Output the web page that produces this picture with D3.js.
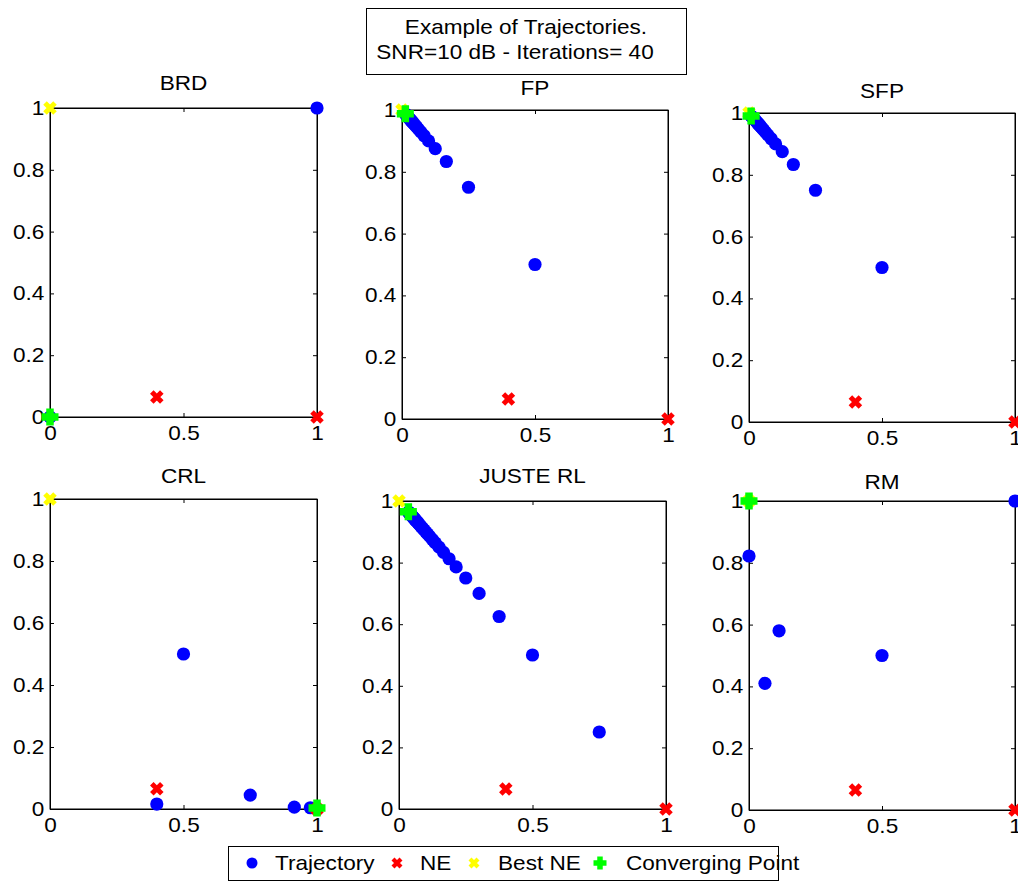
<!DOCTYPE html>
<html>
<head>
<meta charset="utf-8">
<script src="https://cdn.jsdelivr.net/npm/d3@7"></script>
<style>
  html, body { margin: 0; padding: 0; background: #fff; }
  svg { display: block; }
  text { font-family: "Liberation Sans", Arial, sans-serif; fill: #000; }
</style>
</head>
<body>
<div id="chart"></div>
<script>
// ── Data ─────────────────────────────────────────────────────
const panelTitles = ["BRD", "FP", "SFP", "CRL", "JUSTE RL", "RM"];
const titleLines  = ["Example of Trajectories.", "SNR=10 dB - Iterations= 40"];
const legendNames = ["Trajectory", "NE", "Best NE", "Converging Point"];

const xTicks = [0, 0.5, 1];
const xTickLabels = ["0", "0.5", "1"];
const yTicks = [0, 0.2, 0.4, 0.6, 0.8, 1];
const yTickLabels = ["0", "0.2", "0.4", "0.6", "0.8", "1"];

// Nash equilibria (same in every panel) and the best one
const neX = [0.4, 1];
const neY = [0.065, 0];
const bestX = [0];
const bestY = [1];

// trajectories, one pair of arrays per algorithm
const brdX = [1, 0];
const brdY = [1, 0];

const fpX = [0.5, 0.25, 0.1667, 0.125, 0.1, 0.0833, 0.0714, 0.0625, 0.0556, 0.05, 0.0455,
             0.0417, 0.0385, 0.0357, 0.0333, 0.03, 0.027, 0.024, 0.021, 0.018, 0.0155, 0.0125];
const fpY = [0.5, 0.75, 0.8333, 0.875, 0.9, 0.9167, 0.9286, 0.9375, 0.9444, 0.95, 0.9545,
             0.9583, 0.9615, 0.9643, 0.9667, 0.97, 0.973, 0.976, 0.979, 0.982, 0.9845, 0.9875];

const sfpX = [0.5, 0.25, 0.1667, 0.125, 0.1, 0.0833, 0.0714, 0.0625, 0.0556, 0.05, 0.0455,
              0.0417, 0.0385, 0.0357, 0.0333, 0.03, 0.026, 0.022, 0.018, 0.014, 0.011, 0.008];
const sfpY = [0.5, 0.75, 0.8333, 0.875, 0.9, 0.9167, 0.9286, 0.9375, 0.9444, 0.95, 0.9545,
              0.9583, 0.9615, 0.9643, 0.9667, 0.97, 0.974, 0.978, 0.982, 0.986, 0.988, 0.99];

const crlX = [0.5, 0.4, 0.75, 0.915, 0.975];
const crlY = [0.5, 0.016, 0.045, 0.006, 0.004];

const jrlX = [0.75, 0.5, 0.375, 0.3, 0.25, 0.214, 0.1875, 0.1667, 0.15, 0.136, 0.125, 0.115,
              0.107, 0.1, 0.094, 0.088, 0.083, 0.079, 0.075, 0.071, 0.068, 0.065, 0.0625, 0.06,
              0.058, 0.056, 0.054, 0.052, 0.05, 0.048, 0.047, 0.045, 0.044, 0.043, 0.042, 0.04,
              0.039, 0.038, 0.037, 0.036];
const jrlY = [0.25, 0.5, 0.625, 0.7, 0.75, 0.786, 0.8125, 0.8333, 0.85, 0.864, 0.875, 0.885,
              0.893, 0.9, 0.906, 0.912, 0.917, 0.921, 0.925, 0.929, 0.932, 0.935, 0.9375, 0.94,
              0.942, 0.944, 0.946, 0.948, 0.95, 0.952, 0.953, 0.955, 0.956, 0.957, 0.958, 0.96,
              0.961, 0.962, 0.963, 0.964];

const rmX = [1, 0.5, 0.113, 0.06, 0, 0];
const rmY = [1, 0.5, 0.58, 0.41, 0.822, 1];

const trajX = [brdX, fpX, sfpX, crlX, jrlX, rmX];
const trajY = [brdY, fpY, sfpY, crlY, jrlY, rmY];

// converging point of each algorithm
const convX = [0, 0.0125, 0.008, 1, 0.035, 0];
const convY = [0, 0.9875, 0.99, 0.003, 0.965, 1];

// ── Layout (pixel boxes of the six axes) ────────────────────
const W = 1018, H = 882;
const FS = 20, SX = 1.13;   // font size and horizontal stretch of the original
const boxes = [
  { x0: 50,  x1: 317,  y0: 108, y1: 417, ty: 90 },
  { x0: 402, x1: 668,  y0: 110, y1: 419, ty: 95 },
  { x0: 749, x1: 1015, y0: 113, y1: 422, ty: 98 },
  { x0: 50,  x1: 317,  y0: 499, y1: 809, ty: 483 },
  { x0: 399, x1: 666,  y0: 501, y1: 809, ty: 483 },
  { x0: 749, x1: 1015, y0: 501, y1: 810, ty: 489 }
];

const COL = { traj: "#0000ff", ne: "#ff0000", best: "#ffff00", conv: "#00ff00" };

const svg = d3.select("#chart").append("svg")
  .attr("width", W).attr("height", H)
  .attr("viewBox", `0 0 ${W} ${H}`);

// stretched text helper
function label(g, x, y, str, anchor, fs) {
  return g.append("text")
    .attr("transform", `translate(${x},${y}) scale(${SX},1)`)
    .attr("text-anchor", anchor || "middle")
    .attr("font-size", (fs || FS) + "px")
    .text(str);
}

// marker drawers
function drawX(g, color, r, w) {
  return g.append("path")
    .attr("d", `M${-r},${-r}L${r},${r}M${-r},${r}L${r},${-r}`)
    .attr("stroke", color).attr("stroke-width", w).attr("fill", "none");
}
function drawPlus(g, color, r, w) {
  return g.append("path")
    .attr("d", `M${-r},0H${r}M0,${-r}V${r}`)
    .attr("stroke", color).attr("stroke-width", w).attr("fill", "none");
}

// ── Panels ───────────────────────────────────────────────────
boxes.forEach((b, i) => {
  const x = d3.scaleLinear().domain([0, 1]).range([b.x0, b.x1]);
  const y = d3.scaleLinear().domain([0, 1]).range([b.y1, b.y0]);
  const g = svg.append("g");

  // frame
  g.append("rect")
    .attr("x", b.x0).attr("y", b.y0)
    .attr("width", b.x1 - b.x0).attr("height", b.y1 - b.y0)
    .attr("fill", "#fff").attr("stroke", "#000").attr("stroke-width", 1);

  // axes with inward ticks
  const ax = (axis, tx, ty) => {
    const a = g.append("g").attr("transform", `translate(${tx},${ty})`).call(axis);
    a.select(".domain").attr("stroke", "#000");
    a.selectAll(".tick line").attr("stroke", "#000");
    a.selectAll("text")
      .attr("font-size", FS + "px")
      .attr("font-family", "'Liberation Sans', Arial, sans-serif")
      .attr("fill", "#000")
      .attr("transform", `scale(${SX},1)`);
    return a;
  };
  ax(d3.axisBottom(x).tickValues(xTicks).tickFormat((d, k) => xTickLabels[k])
      .tickSizeInner(-4).tickSizeOuter(0).tickPadding(9), 0, b.y1);
  ax(d3.axisLeft(y).tickValues(yTicks).tickFormat((d, k) => yTickLabels[k])
      .tickSizeInner(-4).tickSizeOuter(0).tickPadding(5), b.x0, 0);
  ax(d3.axisTop(x).tickValues(xTicks).tickFormat("")
      .tickSizeInner(-4).tickSizeOuter(0), 0, b.y0);
  ax(d3.axisRight(y).tickValues(yTicks).tickFormat("")
      .tickSizeInner(-4).tickSizeOuter(0), b.x1, 0);

  // title
  label(g, (b.x0 + b.x1) / 2, b.ty, panelTitles[i]);

  // markers: trajectory, NE, best NE, converging point
  g.selectAll("circle.traj")
    .data(d3.zip(trajX[i], trajY[i]))
    .join("circle").attr("class", "traj")
    .attr("cx", d => x(d[0])).attr("cy", d => y(d[1]))
    .attr("r", 6.6).attr("fill", COL.traj);

  d3.zip(neX, neY).forEach(d => {
    drawX(g.append("g").attr("transform", `translate(${x(d[0])},${y(d[1])})`), COL.ne, 5, 5);
  });
  d3.zip(bestX, bestY).forEach(d => {
    drawX(g.append("g").attr("transform", `translate(${x(d[0])},${y(d[1])})`), COL.best, 5, 5);
  });
  drawPlus(g.append("g").attr("transform", `translate(${x(convX[i])},${y(convY[i])})`),
           COL.conv, 8.5, 7.5);
});

// ── Figure title box ─────────────────────────────────────────
const tg = svg.append("g");
tg.append("rect").attr("x", 366.5).attr("y", 8.5).attr("width", 320).attr("height", 66)
  .attr("fill", "#fff").attr("stroke", "#000").attr("stroke-width", 1);
label(tg, 526, 34, titleLines[0]);
label(tg, 515, 59, titleLines[1]);

// ── Legend ───────────────────────────────────────────────────
const lg = svg.append("g");
lg.append("rect").attr("x", 228.5).attr("y", 846.5).attr("width", 550).attr("height", 34)
  .attr("fill", "#fff").attr("stroke", "#000").attr("stroke-width", 1);
const legMarkX = [252, 397, 474, 600];
const legTextX = [275, 420, 498, 626];
const legY = 863;
legendNames.forEach((name, k) => {
  const m = lg.append("g").attr("transform", `translate(${legMarkX[k]},${legY})`);
  if (k === 0) m.append("circle").attr("r", 5.5).attr("fill", COL.traj);
  else if (k === 1) drawX(m, COL.ne, 4, 4.2);
  else if (k === 2) drawX(m, COL.best, 4, 4.2);
  else drawPlus(m, COL.conv, 6.5, 5.5);
  label(lg, legTextX[k], legY + 7, name, "start");
});
</script>
</body>
</html>
